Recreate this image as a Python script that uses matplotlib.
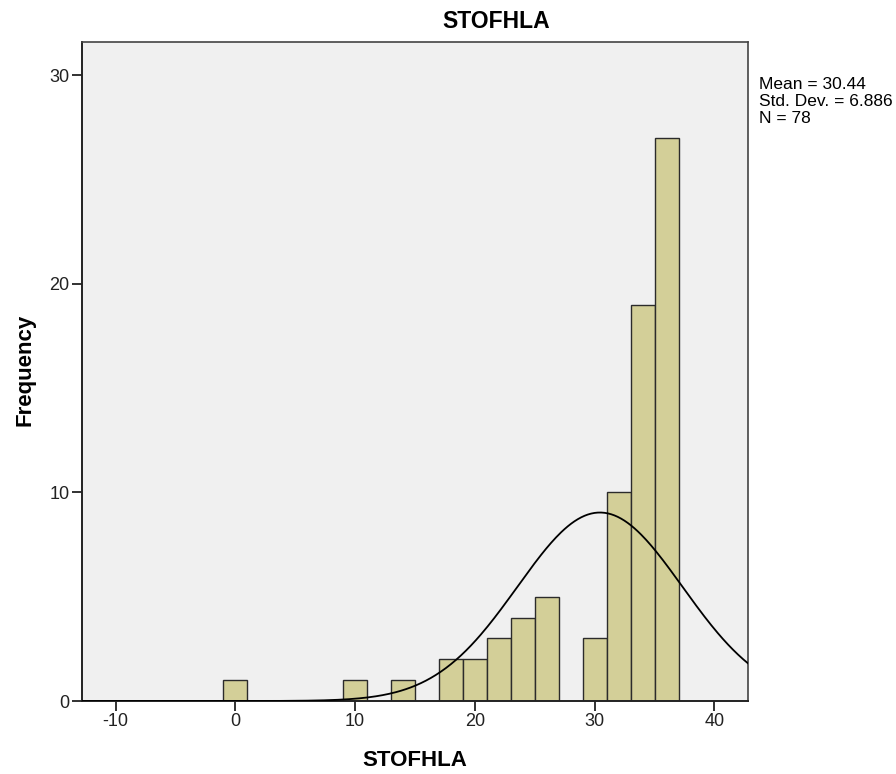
import numpy as np
import matplotlib
matplotlib.use('agg')
from matplotlib import pyplot as plt

# histogram bins (centres, width 2) and counts
bin_centres = [0, 10, 14, 18, 20, 22, 24, 26, 30, 32, 34, 36]
counts = [1, 1, 1, 2, 2, 3, 4, 5, 3, 10, 19, 27]
bin_width = 2
mean = 30.44
std = 6.886
n = 78

plt.rcParams['font.family'] = ['Liberation Sans', 'DejaVu Sans']
plt.rcParams['axes.unicode_minus'] = False

fig = plt.figure(figsize=(8.96, 7.74), dpi=100)
ax = fig.add_axes([82/896, 73/774, 666/896, 659/774])
ax.set_facecolor('#f0f0f0')

ax.bar(bin_centres, counts, width=bin_width, color='#d3cf98',
       edgecolor='#2b2b2b', linewidth=1.0, zorder=2)

xs = np.linspace(-12.8, 42.8, 400)
ys = n * bin_width / (std * np.sqrt(2 * np.pi)) * np.exp(-0.5 * ((xs - mean) / std) ** 2)
ax.plot(xs, ys, color='black', linewidth=1.3, zorder=3)

ax.set_xlim(-12.8, 42.8)
ax.set_ylim(0, 31.6)
ax.set_xticks([-10, 0, 10, 20, 30, 40])
ax.set_yticks([0, 10, 20, 30])
ax.tick_params(direction='out', length=7, width=1.3, labelsize=13, colors='#222222', pad=2)
for s in ['left', 'bottom']:
    ax.spines[s].set_color('#222222')
    ax.spines[s].set_linewidth(1.4)
for s in ['top', 'right']:
    ax.spines[s].set_color('#444444')
    ax.spines[s].set_linewidth(1.2)

fig.text(25/896, 1 - 370/774, 'Frequency', ha='center', va='center', rotation=90,
         fontsize=16, fontweight='bold')
fig.text(415/896, 1 - 761/774, 'STOFHLA', ha='center', va='center',
         fontsize=16, fontweight='bold')
fig.text(496/896, 1 - 21/774, 'STOFHLA', ha='center', va='center',
         fontsize=16.5, fontweight='bold')

fig.text(759/896, 1 - 77/774,
         'Mean = %.2f\nStd. Dev. = %.3f\nN = %d' % (mean, std, n),
         ha='left', va='top', fontsize=12.5, linespacing=1.15)

fig.savefig('out.png', dpi=100)
